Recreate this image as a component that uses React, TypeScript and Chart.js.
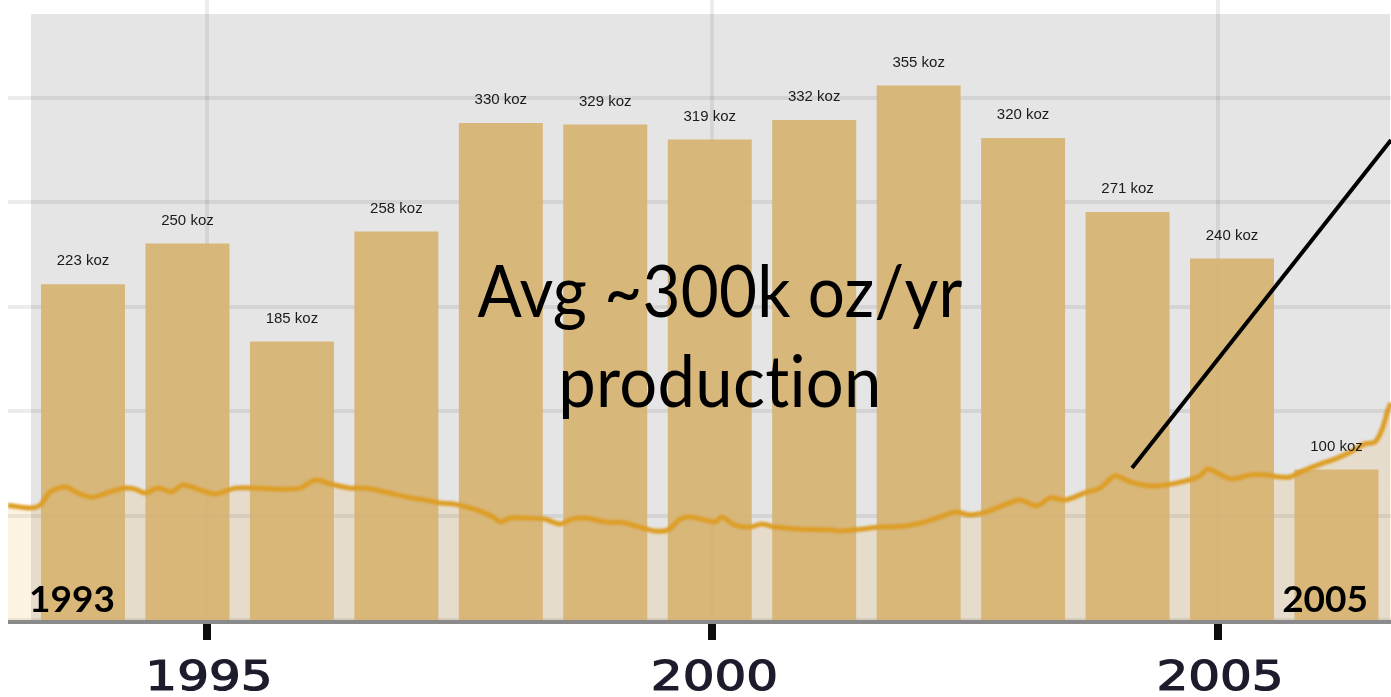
import React, { useEffect, useRef } from "react";
import { Chart, registerables } from "chart.js";

Chart.register(...registerables);

// Annual mine production, thousand ounces
const productionYears = [1993, 1994, 1995, 1996, 1997, 1998, 1999, 2000, 2001, 2002, 2003, 2004, 2005];
const productionKoz = [223, 250, 185, 258, 330, 329, 319, 332, 355, 320, 271, 240, 100];

// Gold spot price, USD per ounce (decimal year)
const goldYears = [
  1993.03, 1993.25, 1993.35, 1993.45, 1993.6, 1993.74, 1993.87, 1994.04, 1994.19, 1994.29,
  1994.39, 1994.52, 1994.65, 1994.76, 1994.93, 1995.08, 1995.28, 1995.48, 1995.72, 1995.92,
  1996.07, 1996.22, 1996.41, 1996.56, 1996.76, 1997.01, 1997.16, 1997.31, 1997.45, 1997.6,
  1997.7, 1997.83, 1997.9, 1998.0, 1998.15, 1998.34, 1998.49, 1998.61, 1998.74, 1998.94,
  1999.13, 1999.28, 1999.43, 1999.56, 1999.68, 1999.78, 1999.93, 2000.03, 2000.09, 2000.22,
  2000.37, 2000.49, 2000.62, 2000.87, 2001.16, 2001.28, 2001.46, 2001.66, 2001.9, 2002.06,
  2002.25, 2002.4, 2002.55, 2002.7, 2002.84, 2003.04, 2003.21, 2003.34, 2003.49, 2003.68,
  2003.83, 2003.98, 2004.13, 2004.33, 2004.48, 2004.67, 2004.82, 2004.9, 2005.07, 2005.15,
  2005.32, 2005.47, 2005.61, 2005.71, 2005.86, 2006.01, 2006.16, 2006.31, 2006.45, 2006.55,
  2006.62, 2006.68, 2006.71,
];
const goldPriceUsd = [
  330, 322, 330, 368, 382, 362, 353, 368, 379, 376,
  365, 379, 368, 388, 374, 362, 379, 379, 376, 379,
  402, 391, 379, 379, 368, 351, 345, 336, 333, 322,
  313, 296, 282, 293, 293, 290, 276, 290, 293, 282,
  279, 267, 256, 259, 290, 296, 287, 282, 296, 273,
  267, 276, 267, 261, 259, 256, 261, 267, 270, 279,
  296, 310, 302, 310, 325, 345, 328, 351, 345, 365,
  379, 414, 397, 385, 388, 399, 414, 434, 411, 405,
  417, 417, 411, 411, 431, 448, 463, 483, 506, 511,
  546, 603, 624,
];

// Time-axis tick labels
const axisYears = [1995, 2000, 2005];
// Price gridlines every $300
const priceGrid = [0, 300, 600, 900, 1200, 1500];

const unitSuffix = " koz";
const headline = ["Avg ~300k oz/yr", "production"];
const startLabel = "1993";
const endLabel = "2005";

const W = 1391;
const H = 697;

export default function App() {
  const canvasRef = useRef<HTMLCanvasElement | null>(null);

  useEffect(() => {
    const canvas = canvasRef.current;
    if (!canvas) return;

    const decorations = {
      id: "decorations",
      beforeDraw(chart: any) {
        const { ctx } = chart;
        ctx.save();
        ctx.fillStyle = "#ffffff";
        ctx.fillRect(0, 0, W, H);
        // grey plot panel
        ctx.fillStyle = "#e5e5e5";
        ctx.fillRect(31, 14, 1390 - 31, chart.chartArea.bottom - 14);
        ctx.restore();
      },
      beforeDatasetDraw(chart: any, args: any) {
        if (args.index === 0) chart.ctx.filter = "blur(0.8px)";
      },
      afterDatasetDraw(chart: any, args: any) {
        if (args.index === 0) chart.ctx.filter = "none";
      },
      afterDatasetsDraw(chart: any) {
        const { ctx, chartArea } = chart;
        ctx.save();
        // baseline of the time axis
        ctx.filter = "blur(0.6px)";
        ctx.fillStyle = "#8a8a8a";
        ctx.fillRect(chartArea.left, chartArea.bottom, chartArea.right - chartArea.left, 4);
        ctx.filter = "none";

        // value labels over the bars
        const meta = chart.getDatasetMeta(1);
        ctx.fillStyle = "#1a1a1a";
        ctx.font = '15px "Liberation Sans", Arial, sans-serif';
        ctx.textAlign = "center";
        ctx.textBaseline = "middle";
        meta.data.forEach((bar: any, i: number) => {
          ctx.fillText(productionKoz[i] + unitSuffix, bar.x, bar.y - 23);
        });
        ctx.restore();
      },
      afterDraw(chart: any) {
        const { ctx } = chart;
        const xs = chart.scales.x;
        ctx.save();

        // time-axis labels
        ctx.filter = "blur(0.7px)";
        ctx.fillStyle = "#1c1c2c";
        ctx.strokeStyle = "#1c1c2c";
        ctx.lineWidth = 1.2;
        ctx.font = '40px "DejaVu Sans", sans-serif';
        ctx.textAlign = "center";
        ctx.textBaseline = "alphabetic";
        xs.ticks.forEach((t: any) => {
          const px = xs.getPixelForValue(t.value);
          ctx.save();
          ctx.translate(px + 2, 690);
          ctx.scale(1.25, 1);
          ctx.fillText(String(t.value), 0, 0);
          ctx.strokeText(String(t.value), 0, 0);
          ctx.restore();
        });
        ctx.filter = "none";

        // headline
        ctx.fillStyle = "#000000";
        ctx.font = '72px "Lato", sans-serif';
        (ctx as any).letterSpacing = "0.3px";
        ctx.textAlign = "center";
        [317, 407].forEach((baseline, i) => {
          ctx.save();
          ctx.translate(720, baseline);
          ctx.scale(i === 0 ? 0.91 : 0.93, 1);
          ctx.fillText(headline[i], 0, 0);
          ctx.restore();
        });
        (ctx as any).letterSpacing = "0px";

        // period markers
        ctx.font = 'bold 37px "Lato", sans-serif';
        ctx.textAlign = "left";
        ctx.fillText(startLabel, 29, 612);
        ctx.textAlign = "right";
        ctx.fillText(endLabel, 1368, 612);

        // pointer line
        ctx.strokeStyle = "#000000";
        ctx.lineWidth = 4;
        ctx.beginPath();
        ctx.moveTo(1132, 468);
        ctx.lineTo(1391, 140);
        ctx.stroke();
        ctx.restore();
      },
    };

    const chart = new Chart(canvas, {
      type: "bar",
      data: {
        datasets: [
          {
            type: "line",
            label: "Gold",
            xAxisID: "x",
            yAxisID: "yg",
            data: goldYears.map((yr, i) => ({ x: yr, y: goldPriceUsd[i] })),
            borderColor: "#dd9e27",
            borderWidth: 5,
            pointRadius: 0,
            tension: 0.3,
            fill: "origin",
            backgroundColor: "rgba(235,155,13,0.12)",
            order: 0,
          } as any,
          {
            type: "bar",
            label: "Production",
            xAxisID: "xb",
            yAxisID: "yb",
            data: productionYears.map((yr, i) => ({ x: yr, y: productionKoz[i] })),
            backgroundColor: "rgba(215,179,114,0.92)",
            borderWidth: 0,
            grouped: false,
            barPercentage: 0.804,
            categoryPercentage: 1,
            order: 1,
          } as any,
        ],
      },
      options: {
        responsive: false,
        maintainAspectRatio: false,
        devicePixelRatio: 1,
        animation: false,
        layout: { padding: { left: 8, right: 0, top: 0, bottom: 0 } },
        plugins: {
          legend: { display: false },
          tooltip: { enabled: false },
          filler: { drawTime: "beforeDatasetsDraw" },
        },
        scales: {
          x: {
            type: "linear",
            position: "bottom",
            offset: false,
            min: 1993.032,
            max: 2006.711,
            afterBuildTicks: (s: any) => {
              s.ticks = axisYears.map((v) => ({ value: v }));
            },
            afterFit: (s: any) => {
              s.height = 77;
            },
            grid: {
              offset: false,
              color: "rgba(0,0,0,0.075)",
              lineWidth: 4,
              drawTicks: true,
              tickLength: 20,
              tickWidth: 8,
              tickColor: "#0d0d0d",
            },
            border: { display: false },
            ticks: { display: false },
          },
          xb: {
            type: "linear",
            axis: "x",
            position: "bottom",
            display: false,
            offset: false,
            grid: { offset: false },
            min: 1992.282,
            max: 2005.522,
            afterBuildTicks: (s: any) => {
              s.ticks = productionYears.map((v) => ({ value: v }));
            },
          },
          yg: {
            type: "linear",
            position: "left",
            min: 0,
            max: 1781.6,
            afterBuildTicks: (s: any) => {
              s.ticks = priceGrid.map((v) => ({ value: v }));
            },
            afterFit: (s: any) => {
              s.width = 0;
            },
            grid: { color: "rgba(0,0,0,0.075)", lineWidth: 4, drawTicks: false },
            border: { display: false },
            ticks: { display: false },
          },
          yb: {
            type: "linear",
            position: "left",
            display: false,
            min: 0,
            max: 411.7,
          },
        },
      } as any,
      plugins: [decorations],
    });

    return () => chart.destroy();
  }, []);

  return (
    <div style={{ position: "fixed", left: 0, top: 0, width: W, height: H, background: "#fff" }}>
      <canvas ref={canvasRef} width={W} height={H} style={{ width: W, height: H, display: "block" }} />
    </div>
  );
}
